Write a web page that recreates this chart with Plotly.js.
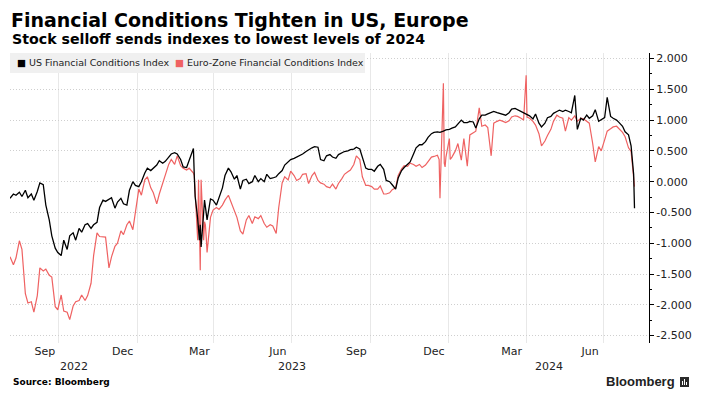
<!DOCTYPE html>
<html>
<head>
<meta charset="utf-8">
<script src="https://cdn.plot.ly/plotly-3.0.1.min.js"></script>
<style>html,body{margin:0;padding:0;background:#fff;}#chart{width:707px;height:397px;}</style>
</head>
<body>
<div id="chart"></div>
<script>
// ---------- DATA ----------
const dates = [
  '2022-08-05','2022-08-09','2022-08-12','2022-08-16','2022-08-19','2022-08-23','2022-08-26','2022-08-30',
  '2022-09-02','2022-09-06','2022-09-09','2022-09-13','2022-09-16','2022-09-20','2022-09-23','2022-09-27','2022-09-30',
  '2022-10-04','2022-10-07','2022-10-11','2022-10-14','2022-10-18','2022-10-21','2022-10-25','2022-10-28',
  '2022-11-01','2022-11-04','2022-11-08','2022-11-11','2022-11-15','2022-11-18','2022-11-22','2022-11-25','2022-11-29',
  '2022-12-02','2022-12-06','2022-12-09','2022-12-13','2022-12-16','2022-12-20','2022-12-23','2022-12-27','2022-12-30',
  '2023-01-03','2023-01-06','2023-01-10','2023-01-13','2023-01-17','2023-01-20','2023-01-24','2023-01-27','2023-01-31',
  '2023-02-03','2023-02-07','2023-02-10','2023-02-14','2023-02-17','2023-02-21','2023-02-24','2023-02-28',
  '2023-03-03','2023-03-07','2023-03-08','2023-03-09','2023-03-10','2023-03-13','2023-03-14','2023-03-15','2023-03-16','2023-03-17','2023-03-20','2023-03-21','2023-03-22','2023-03-23','2023-03-24','2023-03-28','2023-03-31',
  '2023-04-04','2023-04-07','2023-04-11','2023-04-14','2023-04-18','2023-04-21','2023-04-25','2023-04-28',
  '2023-05-02','2023-05-05','2023-05-09','2023-05-12','2023-05-16','2023-05-19','2023-05-23','2023-05-26','2023-05-30',
  '2023-06-02','2023-06-06','2023-06-09','2023-06-13','2023-06-16','2023-06-20','2023-06-23','2023-06-27','2023-06-30',
  '2023-07-04','2023-07-07','2023-07-11','2023-07-14','2023-07-18','2023-07-21','2023-07-25','2023-07-28',
  '2023-08-01','2023-08-04','2023-08-08','2023-08-11','2023-08-15','2023-08-18','2023-08-22','2023-08-25','2023-08-29',
  '2023-09-01','2023-09-05','2023-09-08','2023-09-12','2023-09-15','2023-09-19','2023-09-22','2023-09-26','2023-09-29',
  '2023-10-03','2023-10-06','2023-10-10','2023-10-13','2023-10-17','2023-10-20','2023-10-24','2023-10-27','2023-10-31',
  '2023-11-03','2023-11-07','2023-11-10','2023-11-14','2023-11-17','2023-11-21','2023-11-24','2023-11-28',
  '2023-12-01','2023-12-05','2023-12-08','2023-12-12','2023-12-15','2023-12-19','2023-12-21','2023-12-22','2023-12-26','2023-12-27','2023-12-28','2023-12-29',
  '2024-01-02','2024-01-03','2024-01-05','2024-01-09','2024-01-12','2024-01-16','2024-01-19','2024-01-23','2024-01-26','2024-01-30',
  '2024-02-02','2024-02-06','2024-02-09','2024-02-13','2024-02-16','2024-02-20','2024-02-23','2024-02-27',
  '2024-03-01','2024-03-05','2024-03-08','2024-03-12','2024-03-15','2024-03-19','2024-03-22','2024-03-26','2024-03-29',
  '2024-04-01','2024-04-02','2024-04-05','2024-04-09','2024-04-12','2024-04-16','2024-04-19','2024-04-23','2024-04-26','2024-04-30',
  '2024-05-03','2024-05-07','2024-05-10','2024-05-14','2024-05-17','2024-05-21','2024-05-24','2024-05-28','2024-05-31',
  '2024-06-04','2024-06-07','2024-06-11','2024-06-14','2024-06-18','2024-06-21','2024-06-25','2024-06-28',
  '2024-07-02','2024-07-05','2024-07-09','2024-07-12','2024-07-16','2024-07-19','2024-07-23','2024-07-26','2024-07-30',
  '2024-08-02','2024-08-05','2024-08-06'
];

const usFci = [
  -0.27,-0.20,-0.22,-0.17,-0.24,-0.14,-0.26,-0.20,
  -0.30,-0.16,-0.02,-0.05,-0.38,-0.62,-0.88,-1.08,-1.15,
  -1.20,-0.95,-1.10,-0.88,-0.83,-0.95,-0.76,-0.82,
  -0.70,-0.68,-0.76,-0.70,-0.66,-0.42,-0.30,-0.32,-0.28,
  -0.26,-0.43,-0.33,-0.27,-0.36,-0.38,-0.14,0.00,-0.06,
  -0.08,0.00,0.14,0.22,0.18,0.22,0.27,0.34,0.30,
  0.33,0.40,0.45,0.47,0.45,0.36,0.24,0.23,
  0.35,0.52,0.54,0.10,-0.24,-0.60,-0.75,-0.95,-0.70,-1.06,-0.50,-0.30,-0.40,-0.55,-0.62,-0.28,-0.30,
  -0.38,-0.25,-0.10,0.10,0.22,0.16,0.04,0.10,
  -0.12,0.02,0.04,-0.03,0.00,0.10,0.00,0.05,0.00,
  0.12,0.05,0.06,0.08,0.13,0.18,0.27,0.32,0.36,
  0.38,0.40,0.42,0.45,0.49,0.52,0.55,0.57,
  0.56,0.36,0.34,0.42,0.44,0.40,0.38,0.44,0.47,
  0.49,0.50,0.52,0.53,0.56,0.53,0.38,0.22,0.20,
  0.20,0.17,0.25,0.28,0.20,0.02,0.00,-0.05,-0.12,
  0.06,0.18,0.23,0.28,0.32,0.45,0.55,0.60,
  0.60,0.65,0.72,0.78,0.80,0.81,0.80,0.80,0.82,0.83,0.84,0.84,
  0.85,0.86,0.87,0.89,0.94,1.00,0.96,0.96,0.98,0.97,
  0.87,1.02,1.08,1.08,1.10,1.13,1.14,1.12,
  1.11,1.10,1.08,1.12,1.18,1.19,1.17,1.14,1.12,
  1.10,1.09,1.07,1.02,1.10,0.95,0.89,0.95,1.04,1.06,
  1.11,1.14,1.16,1.14,1.16,1.14,1.12,1.40,0.85,
  1.03,1.00,1.08,1.03,1.07,1.17,0.98,1.01,
  1.04,1.37,1.06,1.03,1.00,0.96,0.90,0.81,0.76,
  0.58,0.12,-0.43
];

const euroFci = [
  -1.22,-1.35,-1.24,-0.96,-1.10,-1.82,-1.97,-1.95,
  -2.12,-1.85,-1.40,-1.45,-1.42,-1.52,-1.55,-2.03,-2.08,
  -1.84,-2.10,-2.12,-2.24,-2.02,-1.95,-1.93,-1.84,
  -1.93,-1.85,-1.65,-1.20,-0.83,-0.89,-0.90,-0.90,-1.40,
  -1.22,-1.05,-1.00,-0.80,-0.86,-0.70,-0.64,-0.78,-0.52,
  -0.12,-0.22,0.03,0.08,-0.10,-0.18,-0.36,-0.20,-0.02,
  0.10,0.28,0.36,0.28,0.42,0.26,0.22,0.19,
  0.22,0.15,0.14,0.10,-0.13,-0.95,0.03,-0.84,-1.44,0.03,-0.95,-0.65,-0.70,-0.90,-1.15,-0.58,-0.46,
  -0.42,-0.45,-0.38,-0.30,-0.22,-0.33,-0.48,-0.58,
  -0.80,-0.85,-0.62,-0.55,-0.68,-0.57,-0.60,-0.55,-0.68,
  -0.74,-0.70,-0.72,-0.84,-0.42,-0.02,0.08,0.03,0.17,
  0.10,0.02,0.05,0.12,0.13,-0.03,0.10,0.15,
  0.02,-0.02,-0.04,-0.08,-0.10,-0.04,-0.12,-0.03,0.05,
  0.12,0.16,0.19,0.28,0.42,0.36,0.08,-0.06,-0.06,
  -0.08,-0.12,-0.12,-0.07,-0.20,-0.20,-0.18,-0.13,-0.10,
  0.10,0.21,0.26,0.25,0.30,0.28,0.25,0.28,
  0.23,0.27,0.32,0.40,0.41,0.43,0.36,-0.27,1.60,0.30,0.24,0.40,
  0.70,0.36,0.40,0.50,0.62,0.35,0.70,0.25,0.76,0.80,
  0.82,1.20,0.90,0.92,0.88,0.42,0.95,0.98,
  1.00,0.98,0.96,0.99,1.05,1.07,1.06,1.03,1.00,
  1.73,1.05,1.03,0.98,0.92,0.78,0.58,0.66,0.75,0.85,
  0.98,1.08,1.05,1.03,0.82,1.04,1.00,1.07,0.98,
  1.03,1.02,0.98,0.95,0.62,0.32,0.57,0.50,
  0.68,0.82,0.86,0.89,0.90,0.86,0.80,0.73,0.55,
  0.49,0.10,-0.08
];

const seriesNames = ['US Financial Conditions Index', 'Euro-Zone Financial Conditions Index'];
const monthTickDates = ['2022-09-15','2022-12-15','2023-03-15','2023-06-15','2023-09-15','2023-12-15','2024-03-15','2024-06-15'];
const monthTickLabels = ['Sep','Dec','Mar','Jun','Sep','Dec','Mar','Jun'];
const quarterGridDates = ['2022-10-01','2023-01-01','2023-04-01','2023-07-01','2023-10-01','2024-01-01','2024-04-01','2024-07-01'];
const yearLabels = ['2022','2023','2024'];
const yearLabelDates = ['2022-10-19','2023-07-01','2024-04-28'];
const yTickVals = [-2.5,-2,-1.5,-1,-0.5,0,0.5,1,1.5,2];
const yTickText = yTickVals.map(v => v.toFixed(3));

// ---------- STYLE ----------
const US_COLOR = '#000000';
const EZ_COLOR = '#ef6262';
const TXT = '#222222';
const FONT = 'DejaVu Sans';

// layout geometry helpers (pixel -> paper)
const PL = 10, PR = 649, PT = 53, PB = 343;
const px = x => (x - PL) / (PR - PL);
const py = y => (PB - y) / (PB - PT);

const traces = [
  {x: dates, y: euroFci, type: 'scatter', mode: 'lines', name: seriesNames[1],
   line: {color: EZ_COLOR, width: 1.2}, showlegend: false, hoverinfo: 'skip'},
  {x: dates, y: usFci, type: 'scatter', mode: 'lines', name: seriesNames[0],
   line: {color: US_COLOR, width: 1.3}, showlegend: false, hoverinfo: 'skip'}
];

const annotations = [
  {xref: 'paper', yref: 'paper', x: px(10), y: py(39), xanchor: 'left', yanchor: 'middle',
   text: '<b>Stock selloff sends indexes to lowest levels of 2024</b>', showarrow: false,
   font: {family: FONT, size: 14.2, color: '#000'}},
  {xref: 'paper', yref: 'paper', x: px(15), y: py(63), xanchor: 'left', yanchor: 'middle',
   text: '<span style="color:' + US_COLOR + '">■</span> ' + seriesNames[0], showarrow: false,
   font: {family: FONT, size: 9.5, color: TXT}},
  {xref: 'paper', yref: 'paper', x: px(173), y: py(63), xanchor: 'left', yanchor: 'middle',
   text: '<span style="color:' + EZ_COLOR + '">■</span> ' + seriesNames[1], showarrow: false,
   font: {family: FONT, size: 9.5, color: TXT}},
  {xref: 'paper', yref: 'paper', x: px(11), y: py(382.5), xanchor: 'left', yanchor: 'middle',
   text: '<b>Source: Bloomberg</b>', showarrow: false,
   font: {family: FONT, size: 9, color: '#000'}},
  {xref: 'paper', yref: 'paper', x: px(677), y: py(381.5), xanchor: 'right', yanchor: 'middle',
   text: '<b>Bloomberg</b>', showarrow: false,
   font: {family: 'Liberation Sans', size: 13, color: '#222'}}
];
yearLabels.forEach((t, i) => annotations.push({
  xref: 'x', yref: 'paper', x: yearLabelDates[i], y: py(366), xanchor: 'center', yanchor: 'middle',
  text: t, showarrow: false, font: {family: FONT, size: 11, color: TXT}
}));

const shapes = [
  // legend background
  {type: 'rect', xref: 'paper', yref: 'paper', x0: px(10), x1: px(365), y0: py(73), y1: py(53),
   fillcolor: '#f0f0f0', line: {width: 0}, layer: 'above'},
  // Bloomberg mark
  {type: 'rect', xref: 'paper', yref: 'paper', x0: px(680), x1: px(689), y0: py(387), y1: py(377),
   fillcolor: '#2b2b2b', line: {width: 0}},
  {type: 'line', xref: 'paper', yref: 'paper', x0: px(682.5), x1: px(682.5), y0: py(385), y1: py(381),
   line: {color: '#fff', width: 1}},
  {type: 'line', xref: 'paper', yref: 'paper', x0: px(684.5), x1: px(684.5), y0: py(385), y1: py(379),
   line: {color: '#fff', width: 1}},
  {type: 'line', xref: 'paper', yref: 'paper', x0: px(686.5), x1: px(686.5), y0: py(385), y1: py(382),
   line: {color: '#fff', width: 1}}
];

const layout = {
  width: 707, height: 397,
  margin: {l: PL, r: 707 - PR, t: PT, b: 397 - PB, pad: 0},
  paper_bgcolor: '#ffffff', plot_bgcolor: '#ffffff',
  showlegend: false,
  title: {
    text: '<b>Financial Conditions Tighten in US, Europe</b>',
    font: {family: FONT, size: 19, color: '#000'},
    xref: 'container', yref: 'container', x: 11 / 707, xanchor: 'left',
    y: 1 - 20 / 397, yanchor: 'middle'
  },
  xaxis: {
    type: 'date', range: ['2022-08-05', '2024-08-23'],
    tickmode: 'array', tickvals: monthTickDates, ticktext: monthTickLabels,
    ticks: '', showgrid: false, zeroline: false, showline: false,
    tickfont: {family: FONT, size: 11, color: TXT},
    minor: {tickmode: 'array', tickvals: quarterGridDates, showgrid: true,
            gridcolor: '#e8e8e8', gridwidth: 1, ticks: ''}
  },
  yaxis: {
    side: 'right', range: [-2.62, 2.09],
    tickmode: 'array', tickvals: yTickVals, ticktext: yTickText,
    ticks: 'outside', ticklen: 4, tickcolor: '#000', tickwidth: 1,
    showline: true, linecolor: '#000', linewidth: 1,
    showgrid: true, gridcolor: '#cfcfcf', griddash: '1px,2px', gridwidth: 1,
    zeroline: false,
    tickfont: {family: FONT, size: 11, color: TXT},
    minor: {tickmode: 'linear', tick0: 0.25, dtick: 0.5, ticks: 'outside', ticklen: 2,
            tickcolor: '#000', showgrid: false}
  },
  annotations: annotations,
  shapes: shapes
};

Plotly.newPlot('chart', traces, layout, {displayModeBar: false, staticPlot: true});
</script>
</body>
</html>
